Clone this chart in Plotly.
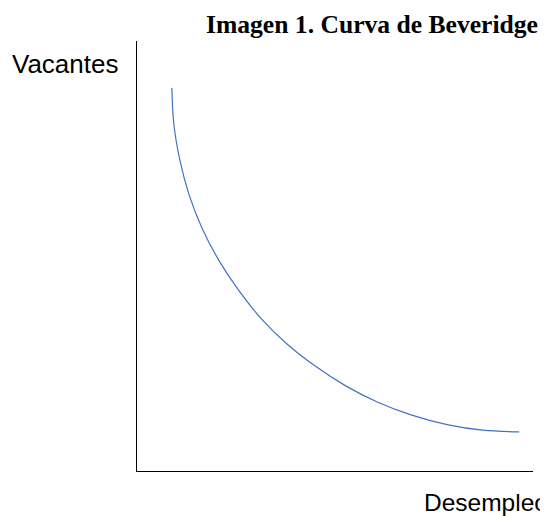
import plotly.graph_objects as go

# Curve (data units: x 0-10, y 0-10)
desempleo = [0.88, 0.93, 1.08, 1.31, 1.64, 2.06, 2.56, 3.13, 3.78, 4.50, 5.27, 6.08, 6.94, 7.83, 8.73, 9.65]
vacantes = [8.91, 8.07, 7.24, 6.44, 5.65, 4.91, 4.21, 3.55, 2.96, 2.44, 1.98, 1.60, 1.30, 1.08, 0.95, 0.91]

title_text = "Imagen 1. Curva de Beveridge"
x_label = "Desempleo"
y_label = "Vacantes"

OFF = 8  # page body margin
W, H = 548 - OFF, 516 - OFF
L, R, T, B = 137 - OFF, 15, 41 - OFF, 45
pw, ph = W - L - R, H - T - B

def px(x):
    return (x - OFF - L) / pw

def py(y):
    return (H - B - (y - OFF)) / ph

fig = go.Figure()
fig.add_trace(go.Scatter(
    x=desempleo, y=vacantes, mode="lines",
    line=dict(color="#4472C4", width=1.2, shape="spline", smoothing=1.0),
    hoverinfo="skip", showlegend=False,
))

fig.update_layout(
    width=W, height=H,
    margin=dict(l=L, r=R, t=T, b=B, pad=0),
    paper_bgcolor="white", plot_bgcolor="white",
    xaxis=dict(range=[0, 10], showline=True, linecolor="black", linewidth=1.3,
               showgrid=False, zeroline=False, showticklabels=False, ticks=""),
    yaxis=dict(range=[0, 10], showline=True, linecolor="black", linewidth=1.3,
               showgrid=False, zeroline=False, showticklabels=False, ticks=""),
    annotations=[
        dict(text="<b>" + title_text + "</b>", xref="paper", yref="paper",
             x=px(372), y=py(25), xanchor="center", yanchor="middle", showarrow=False,
             font=dict(family="Liberation Serif", size=25.6, color="black")),
        dict(text=y_label, xref="paper", yref="paper",
             x=px(120), y=py(64), xanchor="right", yanchor="middle", showarrow=False,
             font=dict(family="Liberation Sans", size=26, color="black")),
        dict(text=x_label, xref="paper", yref="paper",
             x=px(422), y=py(502), xanchor="left", yanchor="middle", showarrow=False,
             font=dict(family="Liberation Sans", size=24.5, color="black")),
    ],
)

fig.write_html("out.html")
